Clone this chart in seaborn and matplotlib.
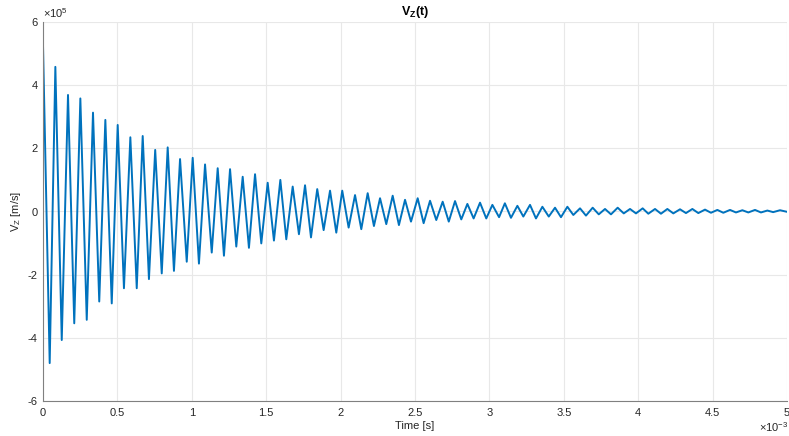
import matplotlib
matplotlib.use("Agg")
import matplotlib.pyplot as plt
import seaborn as sns
import numpy as np
import pandas as pd
from matplotlib.ticker import FuncFormatter

# ---- data (time in ms, velocity in 1e5 m/s) ----
peak_t = [0.000, 0.083, 0.168, 0.251, 0.336, 0.419, 0.502, 0.587, 0.670, 0.754,
          0.838, 0.921, 1.006, 1.089, 1.174, 1.257, 1.342, 1.425, 1.510, 1.595,
          1.678, 1.761, 1.843, 1.929, 2.011, 2.097, 2.182, 2.265, 2.350, 2.433,
          2.518, 2.601, 2.686, 2.769, 2.852, 2.937, 3.020, 3.104, 3.188, 3.273,
          3.356, 3.441, 3.524, 3.609, 3.694, 3.777, 3.862, 3.945, 4.030, 4.113,
          4.196, 4.281, 4.364, 4.449, 4.532, 4.617, 4.700, 4.785, 4.868, 4.953]
peak_v = [5.27, 4.58, 3.69, 3.58, 3.13, 2.90, 2.74, 2.35, 2.39, 1.95,
          2.03, 1.66, 1.70, 1.49, 1.37, 1.34, 1.10, 1.18, 0.91, 1.00,
          0.79, 0.83, 0.71, 0.66, 0.66, 0.52, 0.58, 0.42, 0.50, 0.37,
          0.42, 0.34, 0.31, 0.33, 0.24, 0.28, 0.21, 0.26, 0.18, 0.21,
          0.15, 0.12, 0.15, 0.10, 0.12, 0.08, 0.12, 0.08, 0.10, 0.08,
          0.08, 0.07, 0.08, 0.06, 0.05, 0.05, 0.04, 0.05, 0.03, 0.04]
trough_t = [0.045, 0.126, 0.210, 0.294, 0.378, 0.462, 0.544, 0.630, 0.712, 0.798,
            0.880, 0.966, 1.048, 1.134, 1.216, 1.299, 1.384, 1.467, 1.552, 1.635,
            1.720, 1.801, 1.886, 1.971, 2.054, 2.139, 2.224, 2.307, 2.392, 2.473,
            2.558, 2.643, 2.727, 2.811, 2.894, 2.979, 3.065, 3.145, 3.228, 3.313,
            3.399, 3.481, 3.564, 3.649, 3.735, 3.817, 3.903, 3.985, 4.068, 4.153,
            4.236, 4.321, 4.404, 4.489, 4.572, 4.657, 4.740, 4.825, 4.907, 5.000]
trough_v = [-4.80, -4.07, -3.54, -3.43, -2.85, -2.91, -2.43, -2.43, -2.14, -1.96,
            -1.88, -1.59, -1.65, -1.30, -1.40, -1.11, -1.15, -1.01, -0.92, -0.88,
            -0.72, -0.82, -0.59, -0.67, -0.51, -0.56, -0.46, -0.40, -0.43, -0.32,
            -0.37, -0.27, -0.32, -0.25, -0.22, -0.22, -0.18, -0.20, -0.16, -0.22,
            -0.16, -0.18, -0.11, -0.13, -0.09, -0.09, -0.06, -0.06, -0.07, -0.07,
            -0.06, -0.05, -0.05, -0.04, -0.04, -0.03, -0.03, -0.03, -0.02, -0.01]

x_ticks = [0, 0.5, 1, 1.5, 2, 2.5, 3, 3.5, 4, 4.5, 5]
y_ticks = [-6, -4, -2, 0, 2, 4, 6]

df = pd.DataFrame({"t": peak_t + trough_t, "v": peak_v + trough_v}).sort_values("t")

sns.set_style("white")
plt.rcParams["font.family"] = ["Liberation Sans", "DejaVu Sans"]
plt.rcParams["mathtext.fontset"] = "custom"
plt.rcParams["mathtext.rm"] = "Liberation Sans"
plt.rcParams["mathtext.it"] = "Liberation Sans"
plt.rcParams["mathtext.bf"] = "Liberation Sans:bold"

fig = plt.figure(figsize=(7.89, 4.36), dpi=100)
ax = fig.add_axes([43/789, 1-401/436, (787-43)/789, (401-22)/436])

sns.lineplot(data=df, x="t", y="v", ax=ax, color="#0072BD", lw=1.4,
             estimator=None, sort=False, solid_joinstyle="round")

ax.set_xlim(0, 5)
ax.set_ylim(-6, 6)
ax.set_xticks(x_ticks)
ax.set_yticks(y_ticks)
ax.xaxis.set_major_formatter(FuncFormatter(lambda v, p: f"{v:g}"))
ax.yaxis.set_major_formatter(FuncFormatter(lambda v, p: f"{v:g}"))
ax.grid(True, color="#e8e8e8", lw=0.8)
ax.set_axisbelow(True)

tc = "#262626"
for s in ["top", "right"]:
    ax.spines[s].set_visible(False)
for s in ["left", "bottom"]:
    ax.spines[s].set_color("#808080")
    ax.spines[s].set_linewidth(0.8)
ax.tick_params(axis="both", direction="in", length=4, width=0.6, colors="#808080",
               labelcolor=tc, labelsize=8, pad=4)
ax.tick_params(axis="x", pad=5)

ax.set_xlabel("Time [s]", fontsize=8, color=tc, labelpad=2)
ax.set_ylabel("V$_Z$ [m/s]", fontsize=8, color=tc, labelpad=3)
ax.set_title(r"V$_\mathbf{Z}$(t)", fontsize=9, fontweight="bold", color="black", pad=5)

ax.text(0.0, 1.005, r"$\times$10$^5$", transform=ax.transAxes, fontsize=8,
        color=tc, ha="left", va="bottom")
ax.text(1.002, -0.05, r"$\times$10$^{-3}$", transform=ax.transAxes, fontsize=8,
        color=tc, ha="right", va="top")

fig.savefig("out.png", dpi=100, facecolor="white")
